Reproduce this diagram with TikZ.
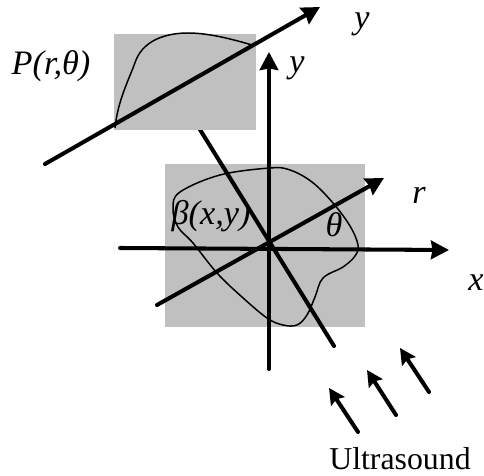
\documentclass[tikz,border=0pt]{standalone}
\usepackage{fontspec}
\setmainfont{Liberation Serif}
\usetikzlibrary{arrows.meta}
\definecolor{patchC}{RGB}{192,192,192}
\tikzset{
	patch/.style={fill=patchC},
	outline/.style={line width=0.85pt},
	axisline/.style={line width=2.3pt, line cap=round},
	flow/.style={-{Stealth[length=0.36cm,width=0.37cm,inset=0.03cm]}, line width=2.3pt, line cap=round},
	wave/.style={-{Stealth[length=0.32cm,width=0.32cm,inset=0.05cm]}, line width=2.3pt, line cap=round},
	axislabel/.style={inner sep=0pt, font=\fontsize{19.5}{22}\selectfont\itshape},
	caption/.style={inner sep=0pt, font=\fontsize{18.1}{20}\selectfont},
}
\begin{document}
\begin{tikzpicture}[x=0.02cm,y=-0.02cm]
		\useasboundingbox (0,0) rectangle (484,476);
		
		% =============== PERPENDICULAR LINE AND PATCHES ===============
		\coordinate (perpA) at (199,128);
		\coordinate (perpB) at (334,346);
		\node[patch, minimum width=4cm, minimum height=3.26cm, inner sep=0pt] (objbox) at (265,245.5) {};
		\draw[axisline] (perpA) -- (perpB);
		\node[patch, minimum width=2.84cm, minimum height=1.92cm, inner sep=0pt] (projbox) at (185,82) {};
		
		% =============== CURVES ===============
		\draw[outline, smooth cycle, tension=0.6] plot coordinates {
			(270,168) (290,170) (312,182) (333,203) (350,226) (358,245) (355,256)
			(343,267) (323,278) (315,297) (307,315) (297,325) (283,325) (267,318)
			(242,297) (217,273) (193,243) (178,227) (173,208) (180,192) (220,175)};
		\draw[outline] (115,128) .. controls (118,100) and (128,82) .. (136,60)
		.. controls (145,38) and (170,33) .. (188,33)
		.. controls (210,33) and (235,40) .. (252,45);
		
		% =============== AXES ===============
		\coordinate (xS) at (120,248);
		\coordinate (xE) at (449,250);
		\coordinate (yS) at (269,369);
		\coordinate (yE) at (269,52);
		\coordinate (rS) at (157,305);
		\coordinate (rE) at (384,178);
		\coordinate (pS) at (45,164);
		\coordinate (pE) at (320,7);
		
		\draw[flow] (xS) -- (xE);
		\draw[flow] (yS) -- (yE);
		\draw[flow] (rS) -- (rE);
		\draw[flow] (pS) -- (pE);
		
		% =============== ULTRASOUND ARROWS ===============
		\coordinate (w1S) at (358,432);
		\coordinate (w1E) at (329,388);
		\coordinate (w2S) at (396,415);
		\coordinate (w2E) at (367,370);
		\coordinate (w3S) at (429,392);
		\coordinate (w3E) at (400,348);
		
		\draw[wave] (w1S) -- (w1E);
		\draw[wave] (w2S) -- (w2E);
		\draw[wave] (w3S) -- (w3E);
		
		% =============== LABELS ===============
		\node[axislabel] (lblP) at (51,66) {P(r,θ)};
		\node[axislabel] (lblYtop) at (362,24) {y};
		\node[axislabel] (lblY) at (297,68) {y};
		\node[axislabel] (lblR) at (419,195) {r};
		\node[axislabel] (lblX) at (476,283) {x};
		\node[axislabel] (lblB) at (211,216) {β(x,y)};
		\node[axislabel] (lblT) at (334,225) {θ};
		\node[caption] (lblU) at (400,459) {Ultrasound};
		
	\end{tikzpicture}
\end{document}
